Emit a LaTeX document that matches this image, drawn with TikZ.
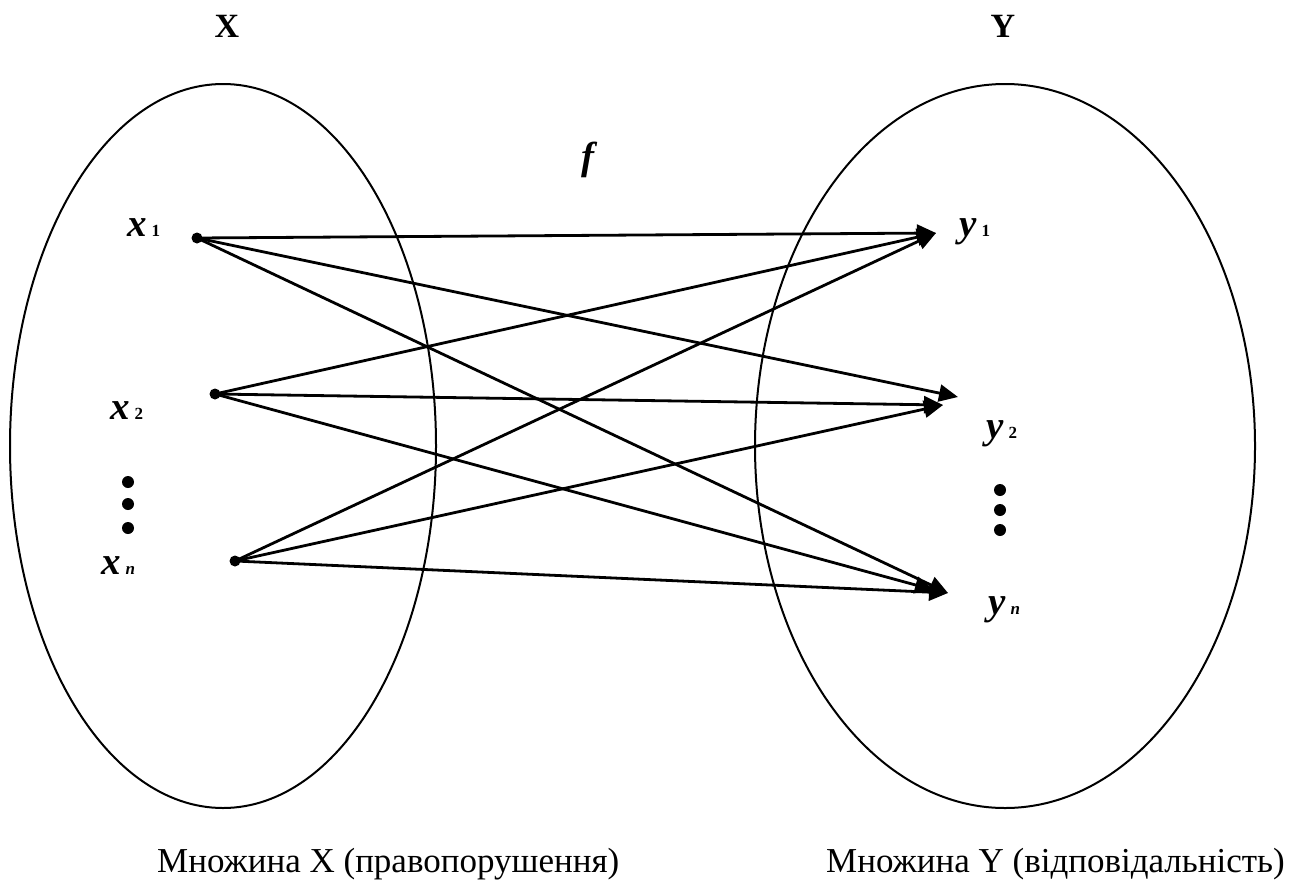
\documentclass[tikz,border=0pt]{standalone}
\usepackage{fontspec}
\setmainfont{Liberation Serif}
\usetikzlibrary{arrows.meta}
\tikzset{
  setline/.style={line width=2pt},
  maparrow/.style={line width=2.8pt,-{Triangle[length=19pt,width=17pt]}},
  pt/.style={circle,fill=black,inner sep=0pt,minimum size=11pt},
  vdot/.style={circle,fill=black,inner sep=0pt,minimum size=12pt},
  elem/.style={font=\fontsize{39}{42}\selectfont\bfseries\itshape,inner sep=0pt},
  title/.style={font=\fontsize{34}{38}\selectfont\bfseries,inner sep=0pt},
  caption/.style={font=\fontsize{35}{38}\selectfont,inner sep=0pt}
}
\newcommand{\sub}[1]{\kern5pt{\fontsize{17}{20}\selectfont\bfseries #1}}
\begin{document}
\begin{tikzpicture}[x=1pt,y=-1pt]
\useasboundingbox (0,0) rectangle (1316,883);
% sets
\draw[setline] (223,446) ellipse [x radius=213, y radius=362];
\draw[setline] (1005,446) ellipse [x radius=250, y radius=362];
\node[title] (X) at (227,26) {X};
\node[title] (Y) at (1003,26) {Y};
\node[elem] (f) at (588,160) {f};
% elements of X
\node[pt] (x1) at (197,238) {};
\node[pt] (x2) at (215,394) {};
\node[pt] (xn) at (235,561) {};
\node[elem,anchor=base west] (lx1) at (127,236) {x\sub{\upshape 1}};
\node[elem,anchor=base west] (lx2) at (110,419) {x\sub{\upshape 2}};
\node[elem,anchor=base west] (lxn) at (101,574) {x\sub{n}};
\node[vdot] (dl1) at (128,482) {};
\node[vdot] (dl2) at (128,504) {};
\node[vdot] (dl3) at (128,528) {};
% targets in Y
\coordinate (y1) at (936,233);
\coordinate (y2a) at (958,397);
\coordinate (y2b) at (943,405);
\coordinate (yna) at (948,593);
\coordinate (ynb) at (934,590);
\node[elem,anchor=base west] (ly1) at (959,236) {y\sub{\upshape 1}};
\node[elem,anchor=base west] (ly2) at (986,438) {y\sub{\upshape 2}};
\node[elem,anchor=base west] (lyn) at (988,614) {y\sub{n}};
\node[vdot] (dr1) at (1000,490) {};
\node[vdot] (dr2) at (1000,510) {};
\node[vdot] (dr3) at (1000,530) {};
% mapping arrows
\draw[maparrow] (x1.center) -- (y1);
\draw[maparrow] (x1.center) -- (y2a);
\draw[maparrow] (x1.center) -- (yna);
\draw[maparrow] (x2.center) -- (y1);
\draw[maparrow] (x2.center) -- (y2b);
\draw[maparrow] (x2.center) -- (ynb);
\draw[maparrow] (xn.center) -- (y1);
\draw[maparrow] (xn.center) -- (y2b);
\draw[maparrow] (xn.center) -- (yna);
% captions
\node[caption,anchor=base west] (cx) at (157,872) {Множина X (правопорушення)};
\node[caption,anchor=base west] (cy) at (826,872) {Множина Y (відповідальність)};
\end{tikzpicture}
\end{document}
